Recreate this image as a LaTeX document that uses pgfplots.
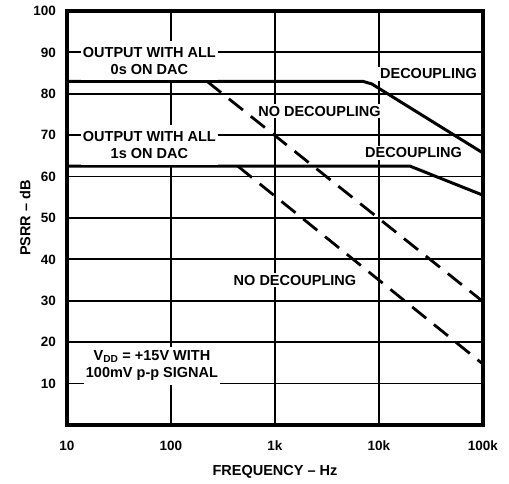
\documentclass[border=0pt]{standalone}
\usepackage{fontspec}
\setmainfont{Liberation Sans}
\usepackage{pgfplots}
\pgfplotsset{compat=1.18}
\newcommand{\lbl}{\fontsize{14.5}{17}\selectfont\bfseries}
\begin{document}
\begin{tikzpicture}
\begin{axis}[
    scale only axis,
    width=416pt, height=414pt,
    xmode=log,
    xmin=10, xmax=100000,
    ymin=0, ymax=100,
    xtick={10,100,1000,10000,100000},
    xticklabels={10,100,1k,10k,100k},
    ytick={10,20,...,100},
    grid=major,
    major grid style={black, line width=1.8pt},
    axis line style={line width=4pt},
    tick style={draw=none},
    /pgf/number format/assume math mode=true,
    ticklabel style={font=\fontsize{13.5}{15}\selectfont\bfseries},
    xticklabel style={yshift=-12.5pt},
    yticklabel style={xshift=-7.5pt},
    xlabel={FREQUENCY -- Hz},
    ylabel={PSRR -- dB},
    label style={font=\lbl},
    xlabel style={at={(axis description cs:0.5,0)}, anchor=north, yshift=-37pt},
    ylabel style={at={(axis description cs:-0.0793,0.5)}, anchor=south},
]
% decoupling, all 0s
\addplot[black, line width=3pt] coordinates {(10,83) (7000,83) (8500,82.4) (10000,81.3) (100000,65.7)};
% decoupling, all 1s
\addplot[black, line width=3pt] coordinates {(10,62.5) (20000,62.5) (100000,55.5)};
% no decoupling
\addplot[black, line width=2.8pt, dash pattern=on 18pt off 10pt] coordinates {(222,83) (100000,29.8)};
\addplot[black, line width=2.8pt, dash pattern=on 18pt off 10pt] coordinates {(440,62.5) (100000,14.7)};

\node[fill=white, inner xsep=2pt, inner ysep=6pt, align=center, font=\lbl] at (axis cs:62,88) {OUTPUT WITH ALL\\0s ON DAC};
\node[fill=white, inner xsep=2pt, inner ysep=6pt, align=center, font=\lbl] at (axis cs:62,67.6) {OUTPUT WITH ALL\\1s ON DAC};
\node[fill=white, inner xsep=2pt, inner ysep=4pt, align=center, font=\lbl] at (axis cs:65.6,14.3) {V\textsubscript{DD} = +15V WITH\\100mV p-p SIGNAL};
\node[fill=white, inner sep=2pt, font=\lbl] at (axis cs:2680,75.8) {NO DECOUPLING};
\node[fill=white, inner sep=2pt, font=\lbl] at (axis cs:1556,35) {NO DECOUPLING};
\node[fill=white, inner sep=2pt, font=\lbl] at (axis cs:29900,84.8) {DECOUPLING};
\node[fill=white, inner sep=2pt, font=\lbl] at (axis cs:21500,65.7) {DECOUPLING};
\coordinate (bl) at (rel axis cs:0,0);
\end{axis}
\useasboundingbox (bl) ++(-67pt,-59pt) rectangle ++(509pt,484pt);
\end{tikzpicture}
\end{document}
